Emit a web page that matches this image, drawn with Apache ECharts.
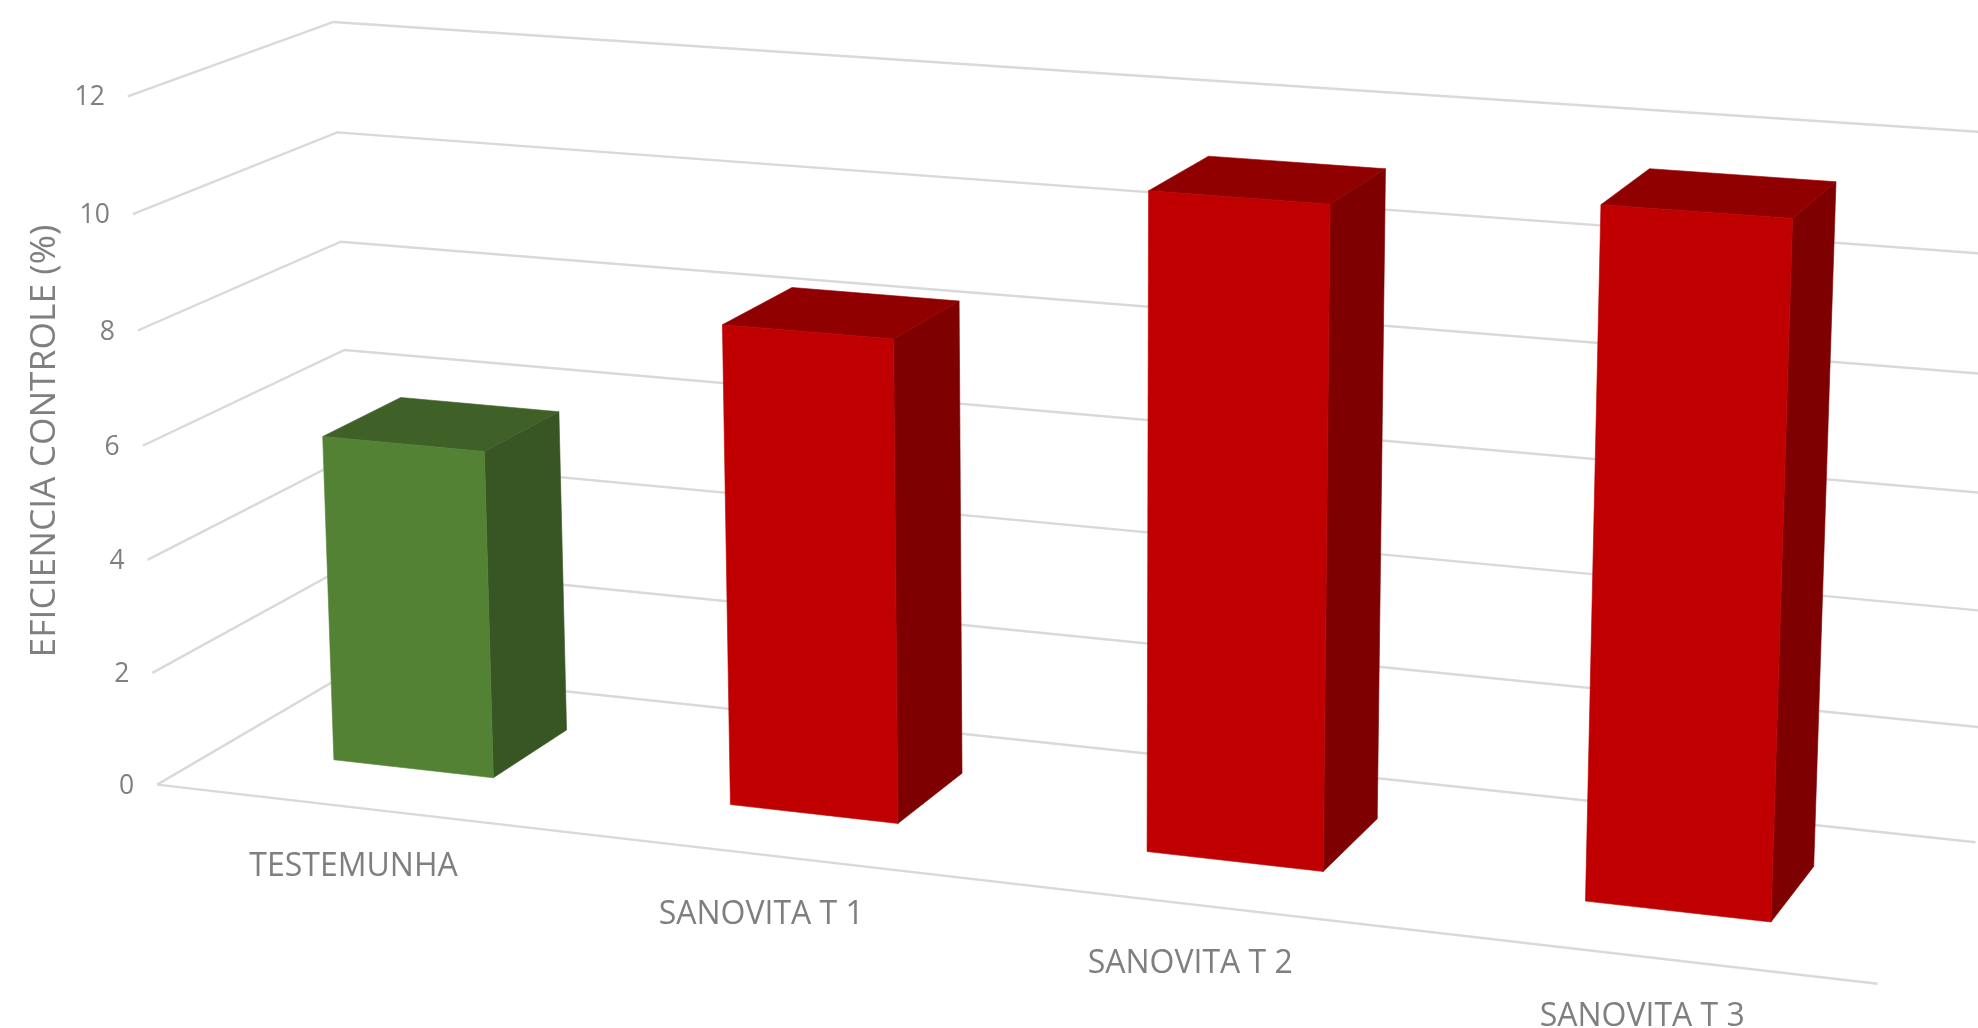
<!DOCTYPE html>
<html><head><meta charset="utf-8">
<style>html,body{margin:0;padding:0;background:#fff;overflow:hidden}#c{width:1978px;height:1028px}</style>
<script src="https://cdn.jsdelivr.net/npm/echarts@6/dist/echarts.min.js"></script>
</head><body><div id="c"></div>
<script>
const categories = ['TESTEMUNHA', 'SANOVITA T 1', 'SANOVITA T 2', 'SANOVITA T 3'];
const efficiency = [5.8, 8.36, 11.16, 11.47];
const valueTicks = [0, 2, 4, 6, 8, 10, 12];
const faceColors = [
  ['#548235', '#3F6128', '#375623'],
  ['#C00000', '#900000', '#7E0000'],
  ['#C00000', '#900000', '#7E0000'],
  ['#C00000', '#900000', '#7E0000']
];
const axisTitle = 'EFICIENCIA CONTROLE (%)';

// camera calibration: world (X category units, Y value, Z depth) -> screen
const cal = [
  [0,0,0,156.5,783.5],[0,2,0,152.6,672],[0,4,0,147.6,560],[0,6,0,142.5,445.7],[0,8,0,137.5,331],[0,10,0,133,214.5],[0,12,0,128,97],
  [0,12,1,333.5,22],[0,10,1,337,132],[0,8,1,341,241],[0,6,1,344,349],[0,0,1,356,671],
  [4,0,0,1878,984],[4,0,1,1975,842],[4,12,1,2004,133.5]
];
function solveCamera(rows){
  const A=[],b=[];
  rows.forEach(([X,Y,Z,u,v])=>{
    A.push([X,Y,Z,1,0,0,0,0,-u*X,-u*Y,-u*Z]);b.push(u);
    A.push([0,0,0,0,X,Y,Z,1,-v*X,-v*Y,-v*Z]);b.push(v);
  });
  const n=11,M=[];
  for(let i=0;i<n;i++){M[i]=[];for(let j=0;j<=n;j++){let s=0;for(let k=0;k<A.length;k++)s+=A[k][i]*(j<n?A[k][j]:b[k]);M[i][j]=s;}}
  for(let i=0;i<n;i++){
    let p=i;for(let r=i+1;r<n;r++)if(Math.abs(M[r][i])>Math.abs(M[p][i]))p=r;
    [M[i],M[p]]=[M[p],M[i]];
    for(let r=0;r<n;r++){if(r===i)continue;const f=M[r][i]/M[i][i];for(let c=i;c<=n;c++)M[r][c]-=f*M[i][c];}
  }
  return M.map((row,i)=>row[n]/row[i]);
}
const P=solveCamera(cal);
function project(X,Y,Z){
  const w=P[8]*X+P[9]*Y+P[10]*Z+1;
  return [(P[0]*X+P[1]*Y+P[2]*Z+P[3])/w,(P[4]*X+P[5]*Y+P[6]*Z+P[7])/w];
}
const halfWidth=0.204, zFront=0.31, zBack=0.71, barShift=-0.003;
const yMax=12, nCat=categories.length;
function toWorld(params,api,i,v){
  const c=api.coord([i,v]),s=params.coordSys;
  return [(c[0]-s.x)/s.width*nCat,(s.y+s.height-c[1])/s.height*yMax];
}
const font=(size)=>size+'px "Open Sans", sans-serif';
const textColor='#7F7F7F';

const gridItem=(params,api)=>{
  const v=api.value(0),[,Y]=toWorld(params,api,0,v);
  const pts=[project(0,Y,0),project(0,Y,1),project(nCat,Y,1)];
  const kids=[{type:'polyline',shape:{points:pts},style:{fill:null,stroke:'#D9D9D9',lineWidth:2.4}}];
  if(v===0)kids.push({type:'line',shape:{x1:pts[0][0],y1:pts[0][1],x2:project(nCat,0,0)[0],y2:project(nCat,0,0)[1]},style:{stroke:'#D9D9D9',lineWidth:2.4}});
  kids.push({type:'text',style:{text:String(v),x:pts[0][0]-23,y:pts[0][1]+1.5,align:'right',verticalAlign:'middle',font:font(26.5),fill:textColor}});
  return {type:'group',children:kids};
};
const barItem=(params,api)=>{
  const i=api.value(0),v=api.value(1),[X,Y]=toWorld(params,api,i,v);
  const [,Y0]=toWorld(params,api,i,0);
  const x0=X+barShift-halfWidth,x1=X+barShift+halfWidth,c=faceColors[i];
  const poly=(pts,col)=>({type:'polygon',shape:{points:pts},style:{fill:col,stroke:col,lineWidth:0.6}});
  return {type:'group',children:[
    poly([project(x1,Y0,zFront),project(x1,Y0,zBack),project(x1,Y,zBack),project(x1,Y,zFront)],c[2]),
    poly([project(x0,Y,zFront),project(x0,Y,zBack),project(x1,Y,zBack),project(x1,Y,zFront)],c[1]),
    poly([project(x0,Y0,zFront),project(x1,Y0,zFront),project(x1,Y,zFront),project(x0,Y,zFront)],c[0])
  ]};
};
const labelItem=(params,api)=>{
  const i=api.value(0),[X]=toWorld(params,api,i,0),p=project(X,0,0);
  return {type:'text',style:{text:categories[i],x:p[0],y:p[1]+60,align:'center',verticalAlign:'middle',font:font(32),fill:textColor}};
};
const chart=echarts.init(document.getElementById('c'),null,{renderer:'canvas'});
chart.setOption({
  animation:false,backgroundColor:'#fff',
  grid:{left:0,right:0,top:0,bottom:0},
  xAxis:{type:'category',data:categories,show:false},
  yAxis:{type:'value',min:0,max:yMax,interval:2,show:false},
  graphic:[{type:'text',x:45,y:441,rotation:Math.PI/2,
    style:{text:axisTitle,align:'center',verticalAlign:'middle',font:font(35.4),fill:textColor}}],
  series:[
    {type:'custom',clip:false,silent:true,z:1,data:valueTicks.map(v=>[v]),encode:{y:0},renderItem:gridItem},
    {type:'custom',clip:false,silent:true,z:2,data:efficiency.map((v,i)=>[i,v]),encode:{x:0,y:1},renderItem:barItem},
    {type:'custom',clip:false,silent:true,z:3,data:categories.map((c,i)=>[i]),encode:{x:0},renderItem:labelItem}
  ]
});
</script></body></html>
